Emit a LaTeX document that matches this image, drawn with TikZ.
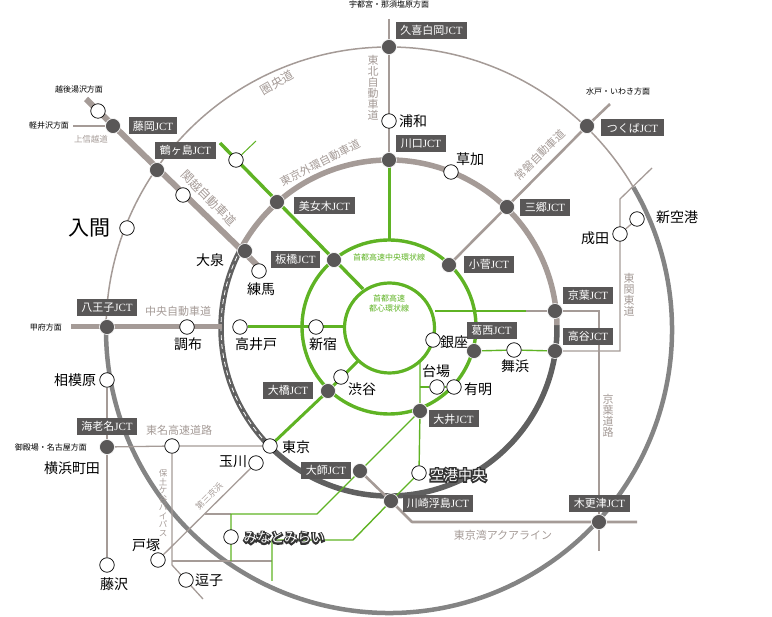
\documentclass[tikz,border=0pt]{standalone}
\usepackage{fontspec}
\setmainfont{Noto Sans CJK JP}
\newfontfamily\ser{Liberation Serif}
\newfontfamily\halofont[FakeBold=22]{Noto Sans CJK JP}
\definecolor{taupe}{HTML}{A59B97}
\definecolor{grn}{HTML}{5FB324}
\definecolor{darkc}{HTML}{595757}
\definecolor{midg}{HTML}{848484}
\definecolor{ringd}{HTML}{606060}
\newcommand{\sz}[1]{\fontsize{#1}{#1}\selectfont}
\newcommand{\J}{{\ser JCT}}
\newcommand{\halotext}[2]{\sz{#1}\rlap{\halofont\color{black!80}#2}\textcolor{white}{#2}}
\pgfdeclarelayer{bg}
\pgfsetlayers{bg,main}
\tikzset{
  jct/.style={circle,fill=darkc,draw=white,line width=.6pt,minimum size=15pt,inner sep=0pt},
  sta/.style={circle,fill=white,draw=black,line width=.7pt,minimum size=14.5pt,inner sep=0pt},
  jbox/.style={fill=darkc,text=white,font=\sz{11},inner sep=0pt,minimum height=17pt,anchor=center},
  lbl/.style={inner sep=0pt,anchor=center,font=\sz{14}},
  dir/.style={inner sep=0pt,anchor=center,font=\sz{8},text=black},
  road/.style={inner sep=0pt,anchor=center,text=taupe,font=\sz{11},align=center},
  vroad/.style={road,font=\fontsize{#1}{#1}\selectfont},
  gl/.style={inner sep=0pt,anchor=center,text=grn,font=\fontsize{8}{10}\selectfont,align=center},
  thinT/.style={draw=taupe,line width=1.3pt},
  medT/.style={draw=taupe,line width=2.6pt},
  fatT/.style={draw=taupe,line width=6pt},
  thinG/.style={draw=grn,line width=1.4pt},
  fatG/.style={draw=grn,line width=3.4pt},
}
\begin{document}
\begin{tikzpicture}[x=1pt,y=1pt,yscale=-1]
\useasboundingbox (0,0) rectangle (772,617);
% JCT nodes
\node[jct] (kuki) at (389,47) {};
\node[jct] (kawaguchi) at (389,160) {};
\node[jct] (kosuge) at (449,265) {};
\node[jct] (misato) at (507,207) {};
\node[jct] (tsukuba) at (587,126) {};
\node[jct] (keiyo) at (555,311) {};
\node[jct] (koya) at (555,351) {};
\node[jct] (kasai) at (474,351) {};
\node[jct] (oi) at (420,411) {};
\node[jct] (ukishima) at (391,501) {};
\node[jct] (kisarazu) at (599,522) {};
\node[jct] (daishi) at (360,471) {};
\node[jct] (ohashi) at (328,391) {};
\node[jct] (ebina) at (107,447) {};
\node[jct] (hachioji) at (107,327) {};
\node[jct] (fujioka) at (113,126) {};
\node[jct] (tsurugashima) at (157,170) {};
\node[jct] (bijogi) at (277,202) {};
\node[jct] (itabashi) at (334,260) {};
\node[jct] (oizumi) at (245,251) {};
% stations
\node[sta] (urawa) at (389,121) {};
\node[sta] (soka) at (451,172) {};
\node[sta] (shinkuko) at (637,219) {};
\node[sta] (narita) at (620,234) {};
\node[sta] (ginza) at (433,340) {};
\node[sta] (maihama) at (514,350) {};
\node[sta] (daiba) at (437,387) {};
\node[sta] (ariake) at (454,387) {};
\node[sta] (kuko) at (419,473) {};
\node[sta] (shibuya) at (341,377) {};
\node[sta] (shinjuku) at (316,327) {};
\node[sta] (takaido) at (240,327) {};
\node[sta] (chofu) at (187,327) {};
\node[sta] (sagamihara) at (107,380) {};
\node[sta] (tokyo) at (270,446) {};
\node[sta] (tamagawa) at (256,463) {};
\node[sta] (tomei) at (172,446) {};
\node[sta] (minato) at (231,537) {};
\node[sta] (totsuka) at (158,560) {};
\node[sta] (zushi) at (186,580) {};
\node[sta] (fujisawa) at (107,565) {};
\node[sta] (iruma) at (127,228) {};
\node[sta] (kanetsu) at (183,195) {};
\node[sta] (yuzawa) at (98,111) {};
\node[sta] (green) at (236,160) {};
\node[sta] (nerima) at (259,271) {};
% free ends and bends
\coordinate (kanN) at (86,99);
\coordinate (kanS) at (257,265);
\coordinate (karuizawa) at (73,126);
\coordinate (gN) at (220,143);
\coordinate (gS) at (363,289);
\coordinate (gbr) at (256,141);
\coordinate (utsu) at (389,19);
\coordinate (ring2top) at (389,240);
\coordinate (jmN) at (610,104);
\coordinate (tkN) at (652,168);
\coordinate (tkB) at (620,199);
\coordinate (tkC) at (620,351);
\coordinate (kyW) at (435,311);
\coordinate (kyM) at (526,311);
\coordinate (kyB) at (599,311);
\coordinate (kyS) at (599,551);
\coordinate (aqB) at (412,522);
\coordinate (aqE) at (637,522);
\coordinate (v1) at (420,362);
\coordinate (v2) at (420,387);
\coordinate (d1) at (317,514);
\coordinate (d2) at (231,514);
\coordinate (d3) at (231,561);
\coordinate (d0) at (205,514);
\coordinate (h1) at (172,561);
\coordinate (h2) at (272,561);
\coordinate (h3) at (272,581);
\coordinate (m1) at (272,540);
\coordinate (m2) at (353,540);
\coordinate (bybend) at (172,565);
\coordinate (byE) at (203,599);
\coordinate (kofu) at (71,327);
\coordinate (chuE) at (222,327);
\coordinate (w1) at (345,327);
\coordinate (e1) at (358,361);
\begin{pgfonlayer}{bg}
% rings
\draw[taupe,line width=1.5pt] (389,330) ++(180:283pt) arc[start angle=180,end angle=329.7,radius=283pt];
\draw[midg,line width=4.5pt] (389,330) ++(-30.3:283pt) arc[start angle=-30.3,end angle=180,radius=283pt];
\draw[ringd,line width=5.5pt] (389,328) ++(-1:168pt) arc[start angle=-1,end angle=207.3,radius=168pt];
\draw[taupe,line width=5.5pt] (389,328) ++(207.3:168pt) arc[start angle=207.3,end angle=359,radius=168pt];
\draw[white,line width=.8pt,dash pattern=on 5pt off 4pt] (389,328) ++(136:168pt) arc[start angle=136,end angle=206,radius=168pt];
\draw[grn,line width=3.4pt] (389,327) circle[radius=87pt];
\draw[grn,line width=3.2pt] (389.5,328) circle[radius=45pt];
% taupe connectors
\draw[fatT] (kanN) -- (kanS);
\draw[thinT] (karuizawa) -- (fujioka);
\draw[medT] (utsu) -- (kuki.center) -- (kawaguchi.center);
\draw[medT] (jmN) -- (tsukuba.center) -- (kosuge.center);
\draw[thinT] (tkN) -- (tkB) -- (tkC) -- (koya.center);
\draw[thinT] (narita) -- (shinkuko);
\draw[thinT] (kyM) -- (kyB) -- (kyS);
\draw[medT,line join=round] (daishi.center) -- (ukishima.center) -- (aqB) -- (aqE);
\draw[thinT] (d0) -- (d2);
\draw[thinT] (h1) -- (h2);
\draw[thinT] (ebina.center) -- (tomei) -- (tokyo);
\draw[thinT] (tomei) -- (bybend) -- (byE);
\draw[thinT] (tamagawa) -- (totsuka);
\draw[thinT] (sagamihara) -- (fujisawa);
\draw[line width=5pt,taupe] (kofu) -- (chuE);
% green connectors
\draw[fatG] (gN) -- (gS);
\draw[grn,line width=1pt] (gbr) -- (green);
\draw[grn,line width=3pt] (kawaguchi.center) -- (ring2top);
\draw[grn,line width=3pt] (takaido) -- (w1);
\draw[grn,line width=3pt] (tokyo) -- (ohashi.center) -- (e1);
\draw[thinG] (kyW) -- (kyM);
\draw[thinG] (kasai.center) -- (maihama) -- (koya.center);
\draw[thinG] (v1) -- (oi.center) -- (kuko) -- (ukishima.center);
\draw[thinG] (v2) -- (daiba) -- (ariake);
\draw[thinG,line join=round] (oi.center) -- (d1) -- (d2) -- (d3);
\draw[thinG] (h3) -- (m1) -- (m2) -- (ukishima.center);
\end{pgfonlayer}
% JCT labels
\node[jbox,minimum width=71pt] (lkuki) at (431.5,30.5) {久喜白岡\J};
\node[jbox,minimum width=50pt] (lkaw) at (421,143.5) {川口\J};
\node[jbox,minimum width=50pt] (lkos) at (489,264.5) {小菅\J};
\node[jbox,minimum width=50pt] (lmis) at (545,207.5) {三郷\J};
\node[jbox,minimum width=63pt] (ltsu) at (632.5,128) {つくば\J};
\node[jbox,minimum width=50pt] (lkei) at (588,295.5) {京葉\J};
\node[jbox,minimum width=50pt] (lkoy) at (588,336.5) {高谷\J};
\node[jbox,minimum width=50pt] (lkas) at (491.5,330.5) {葛西\J};
\node[jbox,minimum width=50pt] (loi) at (453.5,419) {大井\J};
\node[jbox,minimum width=70pt] (luki) at (438,503.5) {川崎浮島\J};
\node[jbox,minimum width=61pt] (lkis) at (599.5,503.5) {木更津\J};
\node[jbox,minimum width=50pt] (ldai) at (326,470.5) {大師\J};
\node[jbox,minimum width=50pt] (loha) at (288,390.5) {大橋\J};
\node[jbox,minimum width=60pt] (lebi) at (107,426.5) {海老名\J};
\node[jbox,minimum width=60pt] (lhac) at (107,307.5) {八王子\J};
\node[jbox,minimum width=48pt] (lfuj) at (153,126) {藤岡\J};
\node[jbox,minimum width=61pt] (ltsr) at (185.5,150.5) {鶴ヶ島\J};
\node[jbox,minimum width=61pt] (lbij) at (324.5,206) {美女木\J};
\node[jbox,minimum width=49pt] (lita) at (295.5,259.5) {板橋\J};
% station labels
\node[lbl] (t1) at (413,121) {浦和};
\node[lbl] (t2) at (470,159) {草加};
\node[lbl] (t3) at (677,217) {新空港};
\node[lbl] (t4) at (595,238) {成田};
\node[lbl] (t5) at (454,342) {銀座};
\node[lbl] (t6) at (515,366) {舞浜};
\node[lbl] (t7) at (436,371) {台場};
\node[lbl] (t8) at (478,389) {有明};
\node[lbl] (t9) at (458,475) {\halotext{14}{空港中央}};
\node[lbl] (t10) at (362,389) {渋谷};
\node[lbl] (t11) at (323,344) {新宿};
\node[lbl] (t12) at (256,344) {高井戸};
\node[lbl] (t13) at (188,344) {調布};
\node[lbl] (t14) at (75,380) {相模原};
\node[lbl] (t15) at (296,447) {東京};
\node[lbl] (t16) at (233,462) {玉川};
\node[lbl] (t17) at (72,468) {横浜町田};
\node[lbl] (t18) at (146,545) {戸塚};
\node[lbl] (t19) at (209,580) {逗子};
\node[lbl] (t20) at (114,584) {藤沢};
\node[lbl] (t21) at (284,538) {\halotext{13.5}{みなとみらい}};
\node[lbl,font=\sz{21}] (t22) at (89,228) {入間};
\node[lbl] (t23) at (210,260) {大泉};
\node[lbl] (t24) at (261,289) {練馬};
% direction labels
\node[dir] (a1) at (389,4) {宇都宮・那須塩原方面};
\node[dir] (a2) at (79,89) {越後湯沢方面};
\node[dir] (a3) at (49,125) {軽井沢方面};
\node[dir] (a4) at (46,327) {甲府方面};
\node[dir] (a5) at (51,447) {御殿場・名古屋方面};
\node[dir] (a6) at (618,91) {水戸・いわき方面};
% road labels
\node[road,rotate=30,font=\sz{12}] (r1) at (277,83) {圏央道};
\node[vroad=11] (r2) at (373,88) {東\\北\\自\\動\\車\\道};
\node[road,rotate=27] (r3) at (320,163) {東京外環自動車道};
\node[road,rotate=-45,font=\sz{12}] (r4) at (209,198) {関越自動車道};
\node[road,rotate=45] (r5) at (540,155) {常磐自動車道};
\node[vroad=11] (r6) at (629,295) {東\\関\\東\\道};
\node[vroad=11] (r7) at (608,416) {京\\葉\\道\\路};
\node[road] (r8) at (503,535) {東京湾アクアライン};
\node[road] (r9) at (179,430) {東名高速道路};
\node[road] (r10) at (178,311) {中央自動車道};
\node[vroad=8.5] (r11) at (163,503) {保\\土\\ケ\\谷\\バ\\イ\\パ\\ス};
\node[road,rotate=45,font=\sz{8.5}] (r12) at (209,496) {第三京浜};
\node[road,font=\sz{8.5}] (r13) at (91,139) {上信越道};
\node[gl] (g1) at (389,257) {首都高速中央環状線};
\node[gl] (g2) at (389,303) {首都高速\\都心環状線};
\end{tikzpicture}
\end{document}
